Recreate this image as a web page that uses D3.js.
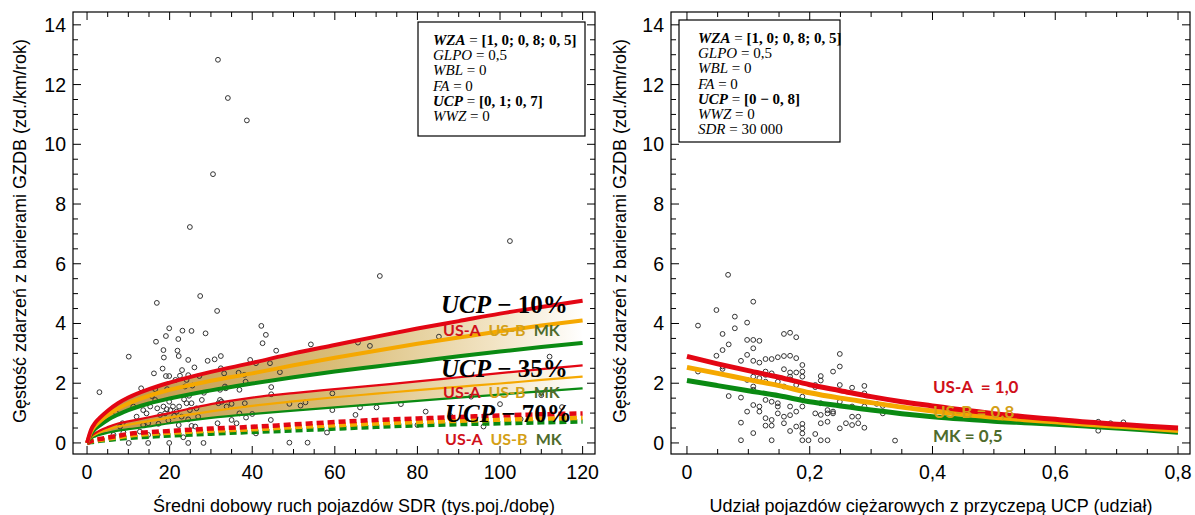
<!DOCTYPE html>
<html><head><meta charset="utf-8">
<script src="https://cdn.jsdelivr.net/npm/d3@7"></script>
<style>
body{margin:0;background:#fff;}
svg{display:block;}
</style></head>
<body>
<svg id="chart" width="1195" height="515"></svg>
<script>
// ---------- DATA ----------
const sdrX = [0,1,2,3,5,7.5,10,15,20,30,40,50,60,70,80,90,100,110,120];
const usA10 = [0,0.45,0.68,0.83,1.08,1.33,1.52,1.8,2.02,2.38,2.68,3.0,3.28,3.56,3.83,4.08,4.33,4.55,4.76];
const usB10 = [0,0.38,0.58,0.71,0.93,1.15,1.32,1.58,1.78,2.08,2.33,2.6,2.85,3.09,3.32,3.53,3.74,3.93,4.1];
const mk10  = [0,0.31,0.47,0.58,0.77,0.95,1.1,1.32,1.49,1.76,1.99,2.2,2.39,2.56,2.73,2.9,3.06,3.21,3.35];
const usA35 = [0,0.22,0.33,0.41,0.53,0.65,0.72,0.86,1.0,1.3,1.52,1.67,1.8,1.93,2.06,2.2,2.34,2.47,2.6];
const usB35 = [0,0.19,0.28,0.35,0.45,0.55,0.61,0.73,0.85,1.06,1.24,1.39,1.53,1.65,1.77,1.88,1.99,2.11,2.22];
const mk35  = [0,0.15,0.22,0.27,0.34,0.41,0.46,0.55,0.66,0.84,0.97,1.08,1.19,1.3,1.41,1.52,1.62,1.73,1.83];
const usA70 = [0,0.06,0.1,0.13,0.18,0.24,0.3,0.36,0.4,0.48,0.54,0.62,0.7,0.77,0.82,0.87,0.92,0.96,0.99];
const usB70 = [0,0.05,0.08,0.1,0.14,0.19,0.24,0.3,0.34,0.41,0.46,0.53,0.59,0.65,0.7,0.74,0.78,0.81,0.84];
const mk70  = [0,0.03,0.05,0.07,0.1,0.14,0.17,0.21,0.25,0.31,0.37,0.42,0.48,0.54,0.59,0.63,0.66,0.69,0.72];

const ucpX = [0,0.05,0.1,0.15,0.2,0.25,0.3,0.35,0.4,0.45,0.5,0.55,0.6,0.65,0.7,0.75,0.8];
const usAucp = [2.9,2.65,2.42,2.2,1.95,1.75,1.55,1.38,1.24,1.1,0.98,0.88,0.79,0.7,0.63,0.56,0.5];
const usBucp = [2.53,2.33,2.12,1.92,1.68,1.5,1.35,1.2,1.07,0.96,0.86,0.78,0.71,0.63,0.56,0.49,0.42];
const mkUcp  = [2.09,1.92,1.75,1.58,1.38,1.24,1.1,0.98,0.88,0.8,0.73,0.68,0.63,0.57,0.5,0.43,0.36];

const leftPts = [
[31.7,12.83],[34.1,11.55],[38.7,10.8],[30.5,9.0],[24.9,7.23],[102.4,6.76],[70.9,5.59],[27.4,4.92],[16.9,4.69],[31.5,4.42],
[3.0,1.70],[10.1,2.89],[13.1,1.83],[16.7,3.39],[18.5,3.11],[18.6,2.86],[19.1,3.58],[19.9,3.84],[22.1,3.48],[21.9,3.09],
[22.2,2.91],[23.1,3.76],[25.3,3.75],[28.7,3.67],[29.2,2.75],[30.9,2.80],[32.4,2.91],[24.5,2.78],[26.0,2.53],[32.4,2.50],
[16.2,2.33],[18.3,2.49],[19.1,2.24],[19.9,2.24],[22.5,2.25],[23.0,2.44],[24.5,2.27],[24.1,2.11],[25.5,1.92],[27.2,2.24],
[16.5,1.80],[19.4,1.80],[21.4,2.11],[23.7,1.89],[24.7,1.58],[28.3,1.68],[33.2,2.33],[33.4,1.89],[32.2,1.78],[32.2,1.44],
[31.8,1.33],[35.0,1.31],[36.7,2.35],[38.1,2.28],[39.5,2.78],[40.9,2.67],[42.2,3.92],[42.5,3.34],[43.3,3.62],[45.8,3.09],
[44.3,2.67],[44.6,1.87],[44.6,1.63],[46.7,2.37],[38.4,2.05],[36.9,1.78],[38.2,1.33],[40.0,0.97],[38.5,0.85],[36.9,0.99],
[36.2,0.66],[35.0,0.77],[33.6,1.83],[33.8,1.22],[32.6,1.38],[31.6,0.66],[40.9,0.32],[44.5,0.77],[49.0,1.31],[51.7,1.25],
[52.9,1.36],[54.2,3.30],[49.0,0.01],[53.4,0.01],[58.1,0.35],[59.4,1.66],[59.4,1.10],[65.0,0.94],[65.6,3.36],[68.5,3.25],
[66.1,1.19],[70.1,1.19],[10.1,0],[14.8,0],[19.9,0],[24.5,0],[28.2,0],[23.3,0.19],
[13.6,1.10],[14.4,0.99],[15.3,1.22],[15.7,1.57],[16.5,1.44],[17.0,1.16],[17.7,0.94],[18.5,1.22],[18.9,0.99],[19.3,1.13],
[19.9,1.38],[20.2,1.10],[20.8,1.22],[21.1,0.91],[21.7,1.05],[22.3,1.22],[22.9,0.88],[23.5,1.46],[24.1,1.33],[24.9,1.10],
[25.3,1.33],[26.5,1.16],[26.9,0.88],[27.8,1.44],[13.6,0.60],[14.8,0.66],[17.3,0.64],[19.7,0.75],[22.2,0.60],[24.5,0.79],
[25.3,0.57],[26.2,0.55],[14.8,0.27],[17.1,0.27],[8.6,0.66],[8.8,0.35],[6.4,0.27],[7.0,1.01],[8.0,0.55],[11.2,1.22],
[12.0,0.88],[12.8,0.38],[85.2,3.56],[112.0,2.89],[76.0,1.3],[82.0,1.05],[88.0,0.9],[93.0,1.55],[100.0,1.3],[105.0,0.8],
[110.0,1.6],[115.0,1.2],[96.0,0.55],[80.0,0.6]
];

const rightPts = [
[0.067,5.63],[0.018,3.93],[0.048,4.45],[0.108,4.73],[0.078,4.23],[0.078,3.84],[0.058,3.65],[0.068,3.30],[0.058,3.11],[0.048,2.92],
[0.098,4.03],[0.098,3.45],[0.108,3.45],[0.118,3.42],[0.108,3.17],[0.088,2.75],[0.108,2.75],[0.118,2.69],[0.098,2.95],[0.128,2.81],
[0.138,2.81],[0.148,2.87],[0.158,2.91],[0.168,2.92],[0.178,2.84],[0.158,3.65],[0.168,3.69],[0.178,3.54],[0.188,2.61],[0.188,2.39],
[0.178,2.36],[0.168,2.36],[0.158,2.47],[0.128,2.39],[0.138,2.33],[0.128,2.28],[0.058,2.56],[0.058,2.48],[0.018,2.39],[0.098,2.11],
[0.108,2.22],[0.118,2.17],[0.068,1.57],[0.088,1.52],[0.108,1.89],[0.108,1.78],[0.128,2.05],[0.148,2.05],[0.168,2.22],[0.168,2.13],
[0.158,1.89],[0.178,1.94],[0.188,2.22],[0.209,1.94],[0.218,2.24],[0.218,2.09],[0.209,1.87],[0.238,2.39],[0.249,2.98],[0.249,2.56],
[0.249,1.94],[0.269,1.85],[0.289,1.91],[0.289,1.66],[0.309,1.31],[0.319,1.24],[0.339,0.08],[0.088,0.68],[0.088,0.09],[0.108,0.33],
[0.098,1.05],[0.108,1.27],[0.118,1.22],[0.118,1.05],[0.128,1.44],[0.138,1.38],[0.128,0.83],[0.138,0.77],[0.128,0.58],[0.138,0.58],
[0.138,0.09],[0.148,1.33],[0.148,1.22],[0.148,0.99],[0.158,0.88],[0.158,0.66],[0.168,0.93],[0.168,1.22],[0.168,0.40],[0.178,0.55],
[0.178,1.05],[0.188,1.55],[0.188,1.22],[0.188,0.64],[0.188,0.49],[0.188,0.32],[0.188,0.09],[0.198,0.09],[0.209,0.30],[0.209,0.99],
[0.218,1.33],[0.218,0.94],[0.218,0.66],[0.218,0.09],[0.229,1.10],[0.229,0.99],[0.229,0.71],[0.229,0.09],[0.238,1.05],[0.238,0.99],
[0.249,1.38],[0.249,0.49],[0.259,0.66],[0.269,1.22],[0.269,0.88],[0.269,0.60],[0.279,0.88],[0.279,0.66],[0.289,0.51],[0.289,1.22],
[0.319,0.99],[0.67,0.71],[0.67,0.41],[0.69,0.66],[0.711,0.69]
];

const yTicks = [0,2,4,6,8,10,12,14];
const xTicksL = [0,20,40,60,80,100,120];
const xTicksR = [0,0.2,0.4,0.6,0.8];
const xTickLabelsR = ["0","0,2","0,4","0,6","0,8"];

const boxL = [
  [{t:"WZA",b:1,i:1},{t:" = ",b:0,i:0},{t:"[1, 0; 0, 8; 0, 5]",b:1,i:0}],
  [{t:"GLPO",b:0,i:1},{t:" = 0,5",b:0,i:0}],
  [{t:"WBL",b:0,i:1},{t:" = 0",b:0,i:0}],
  [{t:"FA",b:0,i:1},{t:" = 0",b:0,i:0}],
  [{t:"UCP",b:1,i:1},{t:" = ",b:0,i:0},{t:"[0, 1; 0, 7]",b:1,i:0}],
  [{t:"WWZ",b:0,i:1},{t:" = 0",b:0,i:0}]
];
const boxR = [
  [{t:"WZA",b:1,i:1},{t:" = ",b:0,i:0},{t:"[1, 0; 0, 8; 0, 5]",b:1,i:0}],
  [{t:"GLPO",b:0,i:1},{t:" = 0,5",b:0,i:0}],
  [{t:"WBL",b:0,i:1},{t:" = 0",b:0,i:0}],
  [{t:"FA",b:0,i:1},{t:" = 0",b:0,i:0}],
  [{t:"UCP",b:1,i:1},{t:" = ",b:0,i:0},{t:"[0 − 0, 8]",b:1,i:0}],
  [{t:"WWZ",b:0,i:1},{t:" = 0",b:0,i:0}],
  [{t:"SDR",b:0,i:1},{t:" = 30 000",b:0,i:0}]
];

// ---------- STYLE ----------
const RED = "#e30613", ORG = "#f5a800", GRN = "#0a8a12";
const LRED = "#d0101a", LORG = "#d4a017", LGRN = "#4e6b2c";
const svg = d3.select("#chart");
const defs = svg.append("defs");
const grad = defs.append("linearGradient").attr("id","band").attr("gradientUnits","userSpaceOnUse")
  .attr("x1",87).attr("x2",583).attr("y1",0).attr("y2",0);
grad.append("stop").attr("offset","0").attr("stop-color","#c09345");
grad.append("stop").attr("offset","0.5").attr("stop-color","#d9bd78");
grad.append("stop").attr("offset","0.82").attr("stop-color","#f2e4c4");
grad.append("stop").attr("offset","1").attr("stop-color","#ffffff");

const yDom = [-0.37, 14.43];
const pTop = 12, pBot = 454;

function frame(g, x, y, x0, x1, xMajor, xMinor, yMajorVals, xLabels){
  const W = x1 - x0;
  g.append("rect").attr("x",x0).attr("y",pTop).attr("width",W).attr("height",pBot-pTop)
    .attr("fill","none").attr("stroke","#000").attr("stroke-width",1.2);
  for(let v=0; v<=14.001; v+=0.5){
    const major = Math.abs(v - Math.round(v/2)*2) < 1e-6;
    const L = major ? 8 : 5;
    const py = y(v);
    g.append("line").attr("x1",x0).attr("x2",x0+L).attr("y1",py).attr("y2",py).attr("stroke","#000");
    g.append("line").attr("x1",x1).attr("x2",x1-L).attr("y1",py).attr("y2",py).attr("stroke","#000");
  }
  xMinor.forEach(v=>{
    const major = xMajor.some(m=>Math.abs(m-v)<1e-9);
    const L = major ? 8 : 5;
    const px = x(v);
    g.append("line").attr("x1",px).attr("x2",px).attr("y1",pBot).attr("y2",pBot-L).attr("stroke","#000");
    g.append("line").attr("x1",px).attr("x2",px).attr("y1",pTop).attr("y2",pTop+L).attr("stroke","#000");
  });
  g.selectAll(null).data(yMajorVals).enter().append("text")
    .attr("x",x0-7).attr("y",d=>y(d)+7).attr("text-anchor","end")
    .attr("font-family","Liberation Sans, Arial, sans-serif").attr("font-size",19.5).text(d=>d);
  g.selectAll(null).data(xMajor).enter().append("text")
    .attr("x",d=>x(d)).attr("y",479).attr("text-anchor","middle")
    .attr("font-family","Liberation Sans, Arial, sans-serif").attr("font-size",19.5)
    .text((d,i)=>xLabels[i]);
}

function legendBox(g, bx, by, bw, bh, tx, rows){
  g.append("rect").attr("x",bx).attr("y",by).attr("width",bw).attr("height",bh)
    .attr("fill","#fff").attr("stroke","#000").attr("stroke-width",1.2);
  rows.forEach((r,i)=>{
    const t = g.append("text").attr("x",tx).attr("y",by+23+i*15.2)
      .attr("font-family","Liberation Serif, Times New Roman, serif").attr("font-size",15);
    r.forEach(p=>t.append("tspan").text(p.t)
      .attr("font-weight",p.b?"bold":"normal").attr("font-style",p.i?"italic":"normal"));
  });
}

// ---------- LEFT CHART ----------
const gL = svg.append("g");
const xL = d3.scaleLinear().domain([-3.4,123]).range([73,595]);
const yL = d3.scaleLinear().domain(yDom).range([pBot,pTop]);
const minorL = d3.range(0,121,5);
frame(gL, xL, yL, 73, 595, xTicksL, minorL, yTicks, xTicksL.map(String));

const area = (hi, lo) => d3.area().x((d,i)=>xL(sdrX[i])).y0((d,i)=>yL(lo[i])).y1((d,i)=>yL(hi[i])).curve(d3.curveMonotoneX)(sdrX);
gL.append("path").attr("d",area(usA10,mk10)).attr("fill","url(#band)");
gL.append("path").attr("d",area(usA35,mk35)).attr("fill","url(#band)");

gL.selectAll(null).data(leftPts).enter().append("circle")
  .attr("cx",d=>xL(d[0])).attr("cy",d=>yL(d[1])).attr("r",2.4)
  .attr("fill","none").attr("stroke","#333").attr("stroke-width",1);

const lineL = arr => d3.line().x((d,i)=>xL(sdrX[i])).y((d,i)=>yL(arr[i])).curve(d3.curveMonotoneX)(sdrX);
[[mk70,GRN],[usB70,ORG],[usA70,RED]].forEach(([a,c])=>
  gL.append("path").attr("d",lineL(a)).attr("fill","none").attr("stroke",c).attr("stroke-width",4.5).attr("stroke-dasharray","7,4"));
[[mk35,GRN],[usB35,ORG],[usA35,RED]].forEach(([a,c])=>
  gL.append("path").attr("d",lineL(a)).attr("fill","none").attr("stroke",c).attr("stroke-width",2.2));
[[mk10,GRN],[usB10,ORG],[usA10,RED]].forEach(([a,c])=>
  gL.append("path").attr("d",lineL(a)).attr("fill","none").attr("stroke",c).attr("stroke-width",4));

function ucpLabel(g, x, y, pct){
  const t = g.append("text").attr("x",x).attr("y",y)
    .attr("font-family","Liberation Serif, Times New Roman, serif").attr("font-size",25).attr("font-weight","bold");
  t.append("tspan").attr("font-style","italic").text("UCP");
  t.append("tspan").text(" − " + pct);
}
function typeRow(g, x, y){
  const t = g.append("text").attr("x",x).attr("y",y)
    .attr("font-family","Lato, Open Sans, sans-serif").attr("font-size",16).attr("font-weight","bold");
  t.append("tspan").attr("fill",LRED).text("US-A");
  t.append("tspan").attr("fill",LORG).attr("dx",8).text("US-B");
  t.append("tspan").attr("fill",LGRN).attr("dx",8).text("MK");
}
ucpLabel(gL, 441, 313, "10%"); typeRow(gL, 443, 336);
ucpLabel(gL, 441, 377, "35%"); typeRow(gL, 443, 398);
ucpLabel(gL, 445, 422, "70%"); typeRow(gL, 445, 445);

legendBox(gL, 418, 22, 167, 114, 433, boxL);

gL.append("text").attr("x",354).attr("y",512).attr("text-anchor","middle")
  .attr("font-family","Liberation Sans, Arial, sans-serif").attr("font-size",18)
  .text("Średni dobowy ruch pojazdów SDR (tys.poj./dobę)");
gL.append("text").attr("transform","translate(26,231) rotate(-90)").attr("text-anchor","middle")
  .attr("font-family","Liberation Sans, Arial, sans-serif").attr("font-size",18)
  .text("Gęstość zdarzeń z barierami GZDB (zd./km/rok)");

// ---------- RIGHT CHART ----------
const gR = svg.append("g");
const xR = d3.scaleLinear().domain([-0.026,0.8195]).range([671,1190]);
const yR = d3.scaleLinear().domain(yDom).range([pBot,pTop]);
const minorR = d3.range(0,0.8001,0.05).map(v=>+v.toFixed(2));
frame(gR, xR, yR, 671, 1190, xTicksR, minorR, yTicks, xTickLabelsR);

gR.selectAll(null).data(rightPts).enter().append("circle")
  .attr("cx",d=>xR(d[0])).attr("cy",d=>yR(d[1])).attr("r",2.4)
  .attr("fill","none").attr("stroke","#333").attr("stroke-width",1);

const lineR = arr => d3.line().x((d,i)=>xR(ucpX[i])).y((d,i)=>yR(arr[i])).curve(d3.curveMonotoneX)(ucpX);
[[mkUcp,GRN],[usBucp,ORG],[usAucp,RED]].forEach(([a,c])=>
  gR.append("path").attr("d",lineR(a)).attr("fill","none").attr("stroke",c).attr("stroke-width",5));

const rl = [["US-A  = 1,0",LRED,393],["US-B = 0,8",LORG,418],["MK = 0,5",LGRN,442]];
rl.forEach(([t,c,y])=>gR.append("text").attr("x",933).attr("y",y).attr("fill",c)
  .attr("font-family","Lato, Open Sans, sans-serif").attr("font-size",17).attr("font-weight","bold")
  .style("white-space","pre").text(t));

legendBox(gR, 679, 20, 161, 122, 698, boxR);

gR.append("text").attr("x",931).attr("y",512).attr("text-anchor","middle")
  .attr("font-family","Liberation Sans, Arial, sans-serif").attr("font-size",18)
  .text("Udział pojazdów ciężarowych z przyczepą UCP (udział)");
gR.append("text").attr("transform","translate(626,231) rotate(-90)").attr("text-anchor","middle")
  .attr("font-family","Liberation Sans, Arial, sans-serif").attr("font-size",18)
  .text("Gęstość zdarzeń z barierami GZDB (zd./km/rok)");
</script>
</body></html>
